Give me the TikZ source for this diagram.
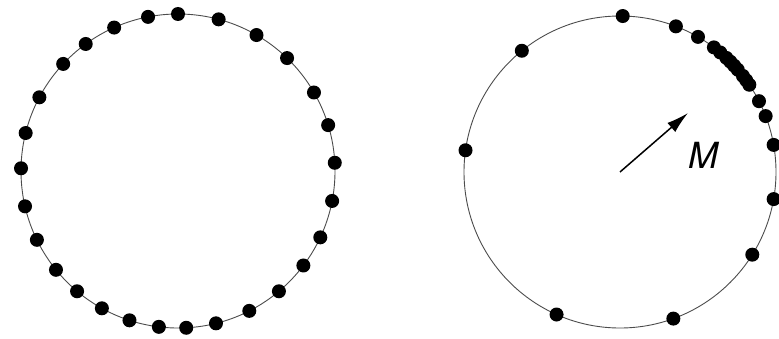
\documentclass[tikz,border=0pt]{standalone}
\usepackage{fontspec}
\setsansfont{TeX Gyre Heros}
\usetikzlibrary{arrows.meta}

\begin{document}
\begin{tikzpicture}[x=1pt,y=1pt,
  ring/.style={draw=black!70,line width=0.9pt},
  bead/.style={fill=black}]
  \useasboundingbox (0,0) rectangle (779,338);
  \coordinate (cl) at (178,167);
  \coordinate (cr) at (620,166);
  % isotropic
  \draw[ring] (cl) circle[radius=157];
  \foreach \a in {90,75,60,46,30,17,3,-11,-25,-37,-50,-63,-76,-87,-97,-108,-119,-130,-141,-154,-167,179,166,152,137,126,114,101}
    \fill[bead,shift={(cl)}] (\a:157) circle[radius=7];
  % magnetised
  \draw[ring] (cr) circle[radius=156];
  \foreach \a in {89,69,60,53,50,47,45,43,41,38,36,34,27,21,10,-10,-32,-70,-114,172,129}
    \fill[bead,shift={(cr)}] (\a:156) circle[radius=7];
  \coordinate (mtip) at (688,225);
  \draw[line width=1.5pt,-{Latex[length=22pt,width=12pt]}] (cr) -- (mtip);
  \node[font=\sffamily\itshape\fontsize{36}{36}\selectfont] (mlabel) at (703,183) {M};
\end{tikzpicture}
\end{document}
